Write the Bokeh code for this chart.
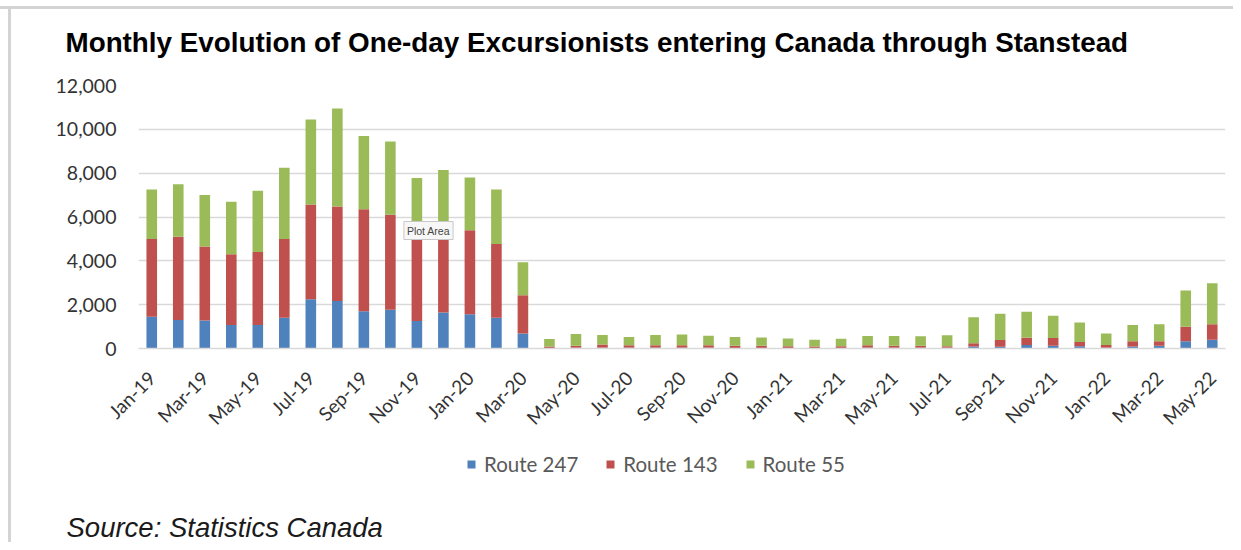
import math
from bokeh.plotting import figure
from bokeh.layouts import column
from bokeh.models import (ColumnDataSource, Range1d, FixedTicker,
                          NumeralTickFormatter, Label, Legend, LegendItem)
from bokeh.embed import file_html
from bokeh.resources import INLINE

months = ["Jan-19", "Feb-19", "Mar-19", "Apr-19", "May-19", "Jun-19", "Jul-19", "Aug-19",
          "Sep-19", "Oct-19", "Nov-19", "Dec-19",
          "Jan-20", "Feb-20", "Mar-20", "Apr-20", "May-20", "Jun-20", "Jul-20", "Aug-20",
          "Sep-20", "Oct-20", "Nov-20", "Dec-20",
          "Jan-21", "Feb-21", "Mar-21", "Apr-21", "May-21", "Jun-21", "Jul-21", "Aug-21",
          "Sep-21", "Oct-21", "Nov-21", "Dec-21",
          "Jan-22", "Feb-22", "Mar-22", "Apr-22", "May-22"]

route_247 = [1450, 1300, 1280, 1070, 1070, 1400, 2250, 2170, 1700, 1770, 1260, 1640,
             1560, 1400, 680, 20, 30, 30, 30, 30, 30, 30, 20, 20,
             20, 20, 20, 30, 30, 30, 30, 90, 75, 165, 120, 100,
             30, 90, 120, 330, 400]
route_143 = [3550, 3800, 3370, 3230, 3330, 3600, 4320, 4310, 4650, 4330, 3840, 3560,
             3840, 3370, 1750, 70, 90, 150, 120, 120, 120, 120, 110, 100,
             80, 70, 80, 120, 100, 90, 70, 150, 315, 330, 360, 200,
             135, 240, 210, 660, 710]
route_55 = [2250, 2400, 2350, 2400, 2800, 3250, 3880, 4470, 3350, 3350, 2680, 2950,
            2400, 2480, 1500, 340, 540, 440, 370, 470, 490, 430, 400, 380,
            360, 310, 350, 420, 440, 440, 510, 1190, 1190, 1185, 1020, 890,
            515, 740, 780, 1660, 1870]

series = ["Route 247", "Route 143", "Route 55"]
colors = ["#4F81BD", "#C0504D", "#9BBB59"]
y_ticks = [0, 2000, 4000, 6000, 8000, 10000, 12000]

title_text = "Monthly Evolution of One-day Excursionists entering Canada through Stanstead"
source_text = "Source: Statistics Canada"

idx = list(range(len(months)))
src = ColumnDataSource(data={"idx": idx, "month": months, "Route 247": route_247,
                             "Route 143": route_143, "Route 55": route_55})

W = 1233


def strip(height):
    f = figure(width=W, height=height, output_backend="svg", toolbar_location=None,
               x_range=Range1d(0, W), y_range=Range1d(0, height), min_border=0)
    f.axis.visible = False
    f.grid.visible = False
    f.outline_line_color = None
    f.background_fill_alpha = 0
    f.border_fill_alpha = 0
    return f


def no_align(f):
    try:
        f.frame_align = False
    except Exception:
        pass


# top strip: title
H0 = 72
p0 = strip(H0)
p0.add_layout(Label(x=65, y=H0 - 42, x_units="screen", y_units="screen", text=title_text,
                    text_font="Liberation Sans", text_font_style="bold",
                    text_font_size="27.8px", text_color="#000000",
                    text_baseline="alphabetic"))

# main chart
H1 = 368
p = figure(width=W, height=H1, output_backend="svg", toolbar_location=None,
           x_range=Range1d(-0.5, len(months) - 0.5), y_range=Range1d(0, 12000),
           min_border_left=138, min_border_right=8, min_border_top=85 - H0,
           min_border_bottom=H1 - (352 - H0))
p.outline_line_color = None
p.background_fill_color = "white"
p.border_fill_alpha = 0

renderers = p.vbar_stack(series, x="idx", width=0.4, color=colors, line_color=None,
                         source=src)

p.yaxis.ticker = FixedTicker(ticks=y_ticks)
p.yaxis.formatter = NumeralTickFormatter(format="0,0")
p.yaxis.axis_line_color = None
p.yaxis.major_tick_line_color = None
p.yaxis.minor_tick_line_color = None
p.yaxis.major_label_standoff = 16
p.yaxis.major_label_text_font = "Lato"
p.yaxis.major_label_text_font_size = "19.5px"
p.yaxis.major_label_text_color = "#333333"

p.xaxis.ticker = FixedTicker(ticks=idx[::2])
p.xaxis.major_label_overrides = {i: months[i] for i in idx}
p.xaxis.axis_line_color = "#d9d9d9"
p.xaxis.axis_line_width = 1.5
p.xaxis.major_tick_line_color = None
p.xaxis.minor_tick_line_color = None
p.xaxis.major_label_orientation = math.pi / 4
p.xaxis.major_label_standoff = 20
p.xaxis.major_label_text_font = "Lato"
p.xaxis.major_label_text_font_size = "19px"
p.xaxis.major_label_text_color = "#333333"

p.xgrid.grid_line_color = None
p.ygrid.grid_line_color = "#d9d9d9"
p.ygrid.grid_line_width = 1.5

p.add_layout(Label(x=290, y=118, x_units="screen", y_units="screen", text="Plot Area",
                   text_font="Liberation Sans", text_font_size="10.5px", text_color="#444444",
                   text_align="center", text_baseline="middle",
                   background_fill_color="#f7f7f7", border_line_color="#c8c8c8",
                   padding=3))

# bottom strip: legend and source note
H2 = 102
p2 = strip(H2)
keys = []
for c in colors:
    k = p2.vbar(x=[0], top=[0], width=1, color=c, line_color=None)
    k.visible = False
    keys.append(k)
legend = Legend(items=[LegendItem(label=s, renderers=[r]) for s, r in zip(series, keys)],
                orientation="horizontal", location=(466, 66),
                glyph_width=10, glyph_height=10, label_standoff=8, spacing=27,
                padding=0, margin=0, label_height=20,
                label_text_font="Lato", label_text_font_size="20.5px",
                label_text_color="#595959", background_fill_alpha=0,
                border_line_color=None, inactive_fill_alpha=0)
p2.add_layout(legend)

p2.add_layout(Label(x=66, y=H2 - 87, x_units="screen", y_units="screen", text=source_text,
                    text_font="Liberation Sans", text_font_style="italic",
                    text_font_size="27.5px", text_color="#1a1a1a",
                    text_baseline="middle"))

for f in (p0, p, p2):
    no_align(f)

frame_line = "#d4d4d4"
layout = column(p0, p, p2, spacing=0,
                styles={"background": (
                    f"linear-gradient({frame_line},{frame_line}) 0px 6px / {W}px 3px no-repeat, "
                    f"linear-gradient({frame_line},{frame_line}) 8px 6px / 3px 540px no-repeat")})

open("out.html", "w").write(file_html(layout, INLINE))
